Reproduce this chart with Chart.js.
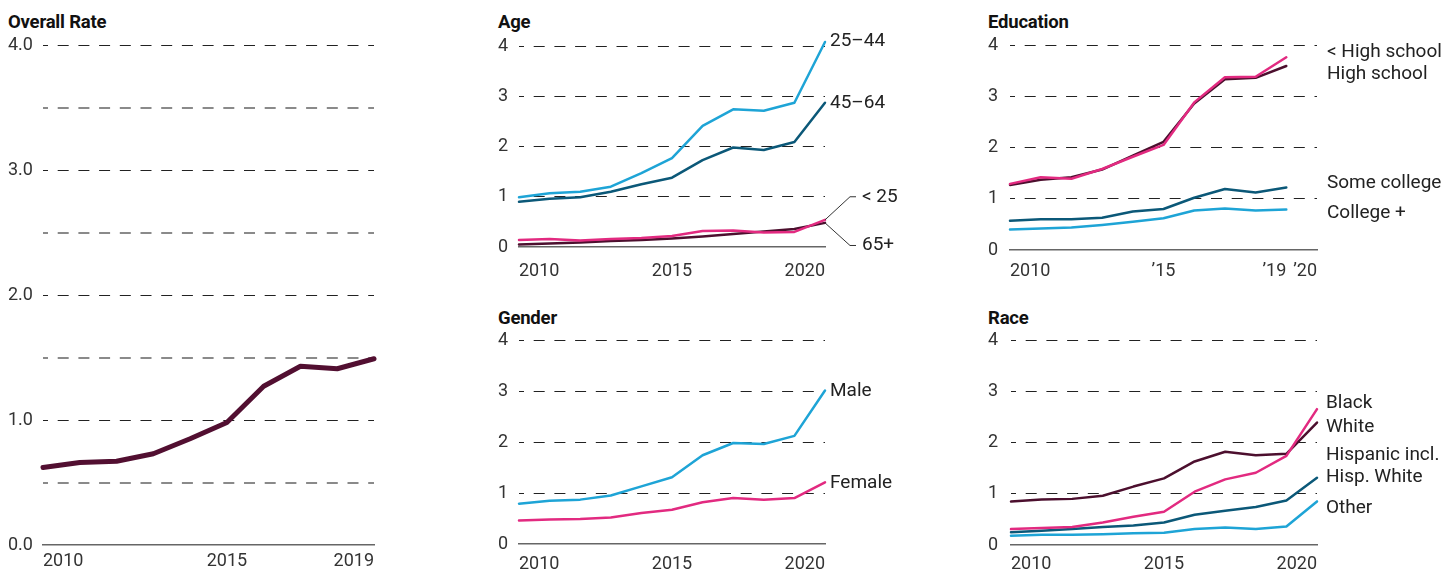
<!DOCTYPE html>
<html>
<head>
<meta charset="utf-8">
<script src="https://cdn.jsdelivr.net/npm/chart.js@4.4.1/dist/chart.umd.min.js"></script>
<style>
  html, body { margin: 0; padding: 0; background: #fff; }
  body { width: 1445px; height: 575px; position: relative; overflow: hidden; font-family: Roboto, sans-serif; }
  canvas { position: absolute; }
  .title { position: absolute; font-weight: 700; font-size: 18.5px; line-height: 20px; color: #111; letter-spacing: -0.2px; }
</style>
</head>
<body>
<div class="title" style="left:8px;top:12px">Overall Rate</div>
<div class="title" style="left:498px;top:12px">Age</div>
<div class="title" style="left:498px;top:308px">Gender</div>
<div class="title" style="left:988px;top:12px">Education</div>
<div class="title" style="left:988px;top:308px">Race</div>

<canvas id="overall" width="400" height="575" style="left:0;top:0"></canvas>
<canvas id="age" width="420" height="290" style="left:490px;top:0"></canvas>
<canvas id="gender" width="420" height="285" style="left:490px;top:290px"></canvas>
<canvas id="education" width="465" height="290" style="left:980px;top:0"></canvas>
<canvas id="race" width="465" height="285" style="left:980px;top:290px"></canvas>

<script>
// years on the x axis
const years = [2010, 2011, 2012, 2013, 2014, 2015, 2016, 2017, 2018, 2019, 2020]

// overall rate, 2010-2019
const overallRate = [0.62, 0.66, 0.67, 0.73, 0.85, 0.98, 1.27, 1.43, 1.41, 1.49]

// age
const age2544 = [0.99, 1.07, 1.10, 1.20, 1.47, 1.77, 2.41, 2.74, 2.71, 2.87, 4.08]
const age4564 = [0.90, 0.96, 0.99, 1.10, 1.25, 1.38, 1.73, 1.98, 1.93, 2.09, 2.87]
const ageUnder25 = [0.14, 0.16, 0.13, 0.16, 0.18, 0.22, 0.32, 0.33, 0.29, 0.30, 0.54]
const age65plus = [0.05, 0.07, 0.09, 0.12, 0.14, 0.17, 0.21, 0.26, 0.31, 0.36, 0.48]

// gender
const male = [0.79, 0.85, 0.87, 0.95, 1.13, 1.31, 1.74, 1.98, 1.96, 2.12, 3.01]
const female = [0.46, 0.48, 0.49, 0.52, 0.61, 0.67, 0.82, 0.90, 0.87, 0.90, 1.21]

// education, 2010-2019
const eduBelowHS = [1.29, 1.42, 1.39, 1.58, 1.82, 2.05, 2.88, 3.37, 3.38, 3.76]
const eduHS = [1.27, 1.37, 1.42, 1.57, 1.84, 2.11, 2.86, 3.33, 3.36, 3.59]
const eduSomeCollege = [0.57, 0.60, 0.60, 0.63, 0.75, 0.80, 1.02, 1.19, 1.12, 1.22]
const eduCollegePlus = [0.40, 0.42, 0.44, 0.49, 0.55, 0.62, 0.77, 0.81, 0.77, 0.79]

// race
const raceWhite = [0.85, 0.89, 0.90, 0.96, 1.14, 1.30, 1.63, 1.82, 1.75, 1.78, 2.39]
const raceBlack = [0.31, 0.33, 0.35, 0.44, 0.55, 0.65, 1.04, 1.28, 1.41, 1.74, 2.65]
const raceHispanic = [0.25, 0.28, 0.31, 0.35, 0.38, 0.44, 0.59, 0.67, 0.74, 0.87, 1.31]
const raceOther = [0.18, 0.20, 0.20, 0.21, 0.23, 0.24, 0.31, 0.34, 0.31, 0.36, 0.85]

const LIGHT_BLUE = '#1ea4d6'
const TEAL = '#0b5878'
const PINK = '#e22a80'
const MAROON = '#4c0f2e'
const FONT = 'Roboto, sans-serif'

const points = (vals) => vals.map((v, i) => ({ x: years[i], y: v }))

const line = (vals, color, width) => ({
  data: points(vals),
  borderColor: color,
  borderWidth: width || 2.5,
  pointRadius: 0,
  tension: 0,
  clip: false,
  borderJoinStyle: 'round',
  borderCapStyle: 'round'
})

// series labels at the right end, plus the odd extra x label
const endLabels = {
  id: 'endLabels',
  afterDraw(chart, args, opts) {
    const { ctx, chartArea, scales } = chart
    ctx.save()
    ctx.font = '19px ' + FONT
    ctx.fillStyle = '#222'
    ctx.textBaseline = 'middle'
    ctx.textAlign = 'left'
    const items = opts.items || []
    items.forEach(item => {
      const y = scales.y.getPixelForValue(item.at)
      const x = chartArea.right + item.dx
      ctx.fillText(item.text, x, y)
      if (item.leader !== undefined) {
        const pts = chart.getDatasetMeta(item.leader).data
        const last = pts[pts.length - 1]
        ctx.strokeStyle = '#333'
        ctx.lineWidth = 1
        ctx.beginPath()
        ctx.moveTo(last.x, last.y)
        ctx.lineTo(x - 12, y)
        ctx.lineTo(x - 6, y)
        ctx.stroke()
      }
    })
    const extra = opts.extraTicks || []
    extra.forEach(t => {
      ctx.font = '18px ' + FONT
      ctx.fillStyle = '#333'
      ctx.textAlign = 'right'
      const x = scales.x.getPixelForValue(t.value)
      ctx.fillText(t.text, x, scales.x.top + opts.tickPad + 10.8)
    })
    ctx.restore()
  }
}

function makePanel(id, cfg) {
  const yTicks = cfg.yTicks
  return new Chart(document.getElementById(id), {
    type: 'line',
    data: { datasets: cfg.datasets },
    plugins: [endLabels],
    options: {
      responsive: false,
      animation: false,
      layout: { padding: cfg.padding },
      plugins: {
        legend: { display: false },
        tooltip: { enabled: false },
        endLabels: { items: cfg.labels || [], extraTicks: cfg.extraTicks || [], tickPad: cfg.xPad }
      },
      scales: {
        x: {
          type: 'linear',
          min: 2010,
          max: cfg.xMax,
          afterBuildTicks: (s) => { s.ticks = cfg.xTicks.map(v => ({ value: v })) },
          afterFit: (s) => { s.height = cfg.xHeight },
          ticks: {
            align: 'inner',
            maxRotation: 0,
            autoSkip: false,
            padding: cfg.xPad,
            color: '#333',
            font: { family: FONT, size: 18 },
            callback: cfg.xFormat || ((v) => String(v))
          },
          grid: { display: false, drawTicks: false },
          border: { display: true, color: '#666', width: 1.5 }
        },
        y: {
          min: 0,
          max: 4,
          afterBuildTicks: (s) => { s.ticks = yTicks.map(v => ({ value: v })) },
          afterFit: (s) => { s.width = cfg.yWidth },
          ticks: {
            crossAlign: 'far',
            padding: 0,
            color: '#333',
            font: { family: FONT, size: 18 },
            callback: cfg.yFormat || ((v) => (v % 1 === 0 ? String(v) : ''))
          },
          grid: {
            drawTicks: false,
            color: (c) => {
              if (c.tick.value === 0) return 'rgba(0,0,0,0)'
              return c.tick.value % 1 === 0 ? '#222' : '#8a8a8a'
            },
            lineWidth: (c) => (c.tick.value % 1 === 0 ? 1 : 2)
          },
          border: { display: false, dash: [11, 9.7], dashOffset: 6 }
        }
      }
    }
  })
}

makePanel('overall', {
  padding: { left: 8, top: 45, right: 26, bottom: 0 },
  yWidth: 35,
  xHeight: 30,
  xPad: 6,
  xMax: 2019,
  xTicks: [2010, 2015, 2019],
  yTicks: [0, 0.5, 1, 1.5, 2, 2.5, 3, 3.5, 4],
  yFormat: (v) => (v % 1 === 0 ? v.toFixed(1) : ''),
  datasets: [line(overallRate, '#520f31', 5)]
})

makePanel('age', {
  padding: { left: 8, top: 46, right: 85, bottom: 0 },
  yWidth: 21,
  xHeight: 43,
  xPad: 14,
  xMax: 2020,
  xTicks: [2010, 2015, 2020],
  yTicks: [0, 1, 2, 3, 4],
  datasets: [
    line(age2544, LIGHT_BLUE),
    line(age4564, TEAL),
    line(ageUnder25, PINK),
    line(age65plus, MAROON)
  ],
  labels: [
    { text: '25\u201344', at: 4.09, dx: 5 },
    { text: '45\u201364', at: 2.86, dx: 5 },
    { text: '< 25', at: 1.0, dx: 37, leader: 2 },
    { text: '65+', at: 0.03, dx: 37, leader: 3 }
  ]
})

makePanel('gender', {
  padding: { left: 8, top: 50, right: 85, bottom: 0 },
  yWidth: 21,
  xHeight: 31,
  xPad: 10,
  xMax: 2020,
  xTicks: [2010, 2015, 2020],
  yTicks: [0, 1, 2, 3, 4],
  datasets: [
    line(male, LIGHT_BLUE),
    line(female, PINK)
  ],
  labels: [
    { text: 'Male', at: 2.99, dx: 5 },
    { text: 'Female', at: 1.2, dx: 5 }
  ]
})

makePanel('education', {
  padding: { left: 8, top: 45, right: 128, bottom: 0 },
  yWidth: 22,
  xHeight: 40,
  xPad: 11,
  xMax: 2020,
  xTicks: [2010, 2015, 2020],
  xFormat: (v) => (v === 2010 ? '2010' : '\u2019' + String(v).slice(2)),
  extraTicks: [{ value: 2019, text: '\u201919' }],
  yTicks: [0, 1, 2, 3, 4],
  datasets: [
    line(eduBelowHS, PINK),
    line(eduHS, MAROON),
    line(eduSomeCollege, TEAL),
    line(eduCollegePlus, LIGHT_BLUE)
  ],
  labels: [
    { text: '< High school', at: 3.86, dx: 10 },
    { text: 'High school', at: 3.43, dx: 10 },
    { text: 'Some college', at: 1.31, dx: 10 },
    { text: 'College +', at: 0.72, dx: 10 }
  ]
})

makePanel('race', {
  padding: { left: 8, top: 50, right: 128, bottom: 0 },
  yWidth: 23,
  xHeight: 30,
  xPad: 9,
  xMax: 2020,
  xTicks: [2010, 2015, 2020],
  yTicks: [0, 1, 2, 3, 4],
  datasets: [
    line(raceBlack, PINK),
    line(raceWhite, MAROON),
    line(raceHispanic, TEAL),
    line(raceOther, LIGHT_BLUE)
  ],
  labels: [
    { text: 'Black', at: 2.77, dx: 9 },
    { text: 'White', at: 2.3, dx: 9 },
    { text: 'Hispanic incl.', at: 1.76, dx: 9 },
    { text: 'Hisp. White', at: 1.33, dx: 9 },
    { text: 'Other', at: 0.72, dx: 9 }
  ]
})
</script>
</body>
</html>
